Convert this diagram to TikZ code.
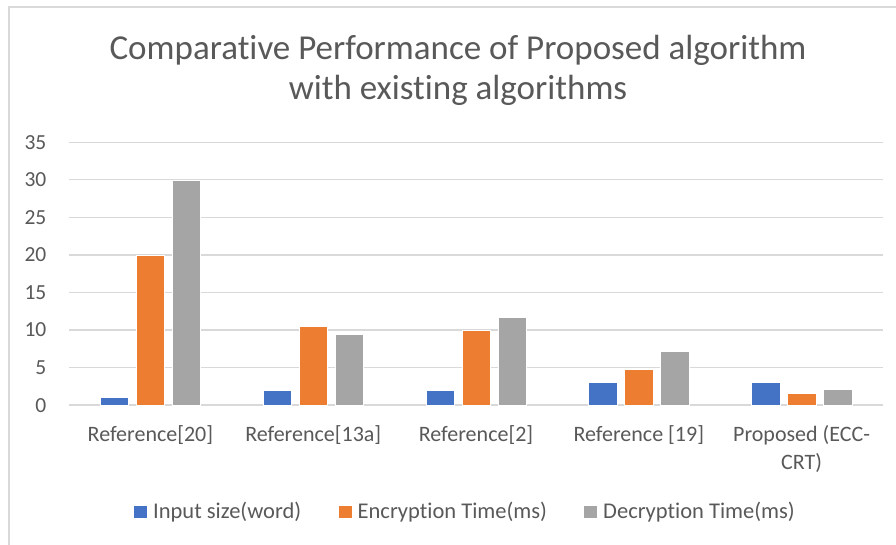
\documentclass[tikz,border=0pt]{standalone}
\usepackage{fontspec}
\setmainfont{Carlito}[RawFeature={-liga;-dlig;-calt}]
\newcommand{\nolig}{\kern0pt{}}
\definecolor{txt}{HTML}{595959}
\definecolor{grid}{HTML}{D9D9D9}
\definecolor{sblue}{HTML}{4472C4}
\definecolor{sorange}{HTML}{ED7D31}
\definecolor{sgray}{HTML}{A5A5A5}
\begin{document}
\begin{tikzpicture}[x=1pt,y=-1pt,
  ticklab/.style={anchor=base east,text=txt,font=\fontsize{21.5}{25}\selectfont,inner sep=0},
  catlab/.style={anchor=base,text=txt,font=\fontsize{22}{27.5}\selectfont,inner sep=0,align=center},
  leglab/.style={anchor=base west,text=txt,font=\fontsize{22.5}{25}\selectfont,inner sep=0},
  titlelab/.style={anchor=base,text=txt,font=\fontsize{35}{40}\selectfont,inner sep=0},
  gridline/.style={draw=grid,line width=1.3pt},
  bar/.style={draw=white,line width=0.5pt}]
\useasboundingbox (0,0) rectangle (896,545);
\fill[white] (0,0) rectangle (896,545);
% chart frame
\draw[grid,line width=1.2pt] (9,545) -- (9,7) -- (896,7);
% title
\node[titlelab] (t1) at (458,60) {Comparat\nolig ive Performance of Proposed algorithm};
\node[titlelab] (t2) at (458,100) {with exist\nolig ing algorithms};
% gridlines and tick labels
\foreach \v [count=\i] in {0,5,...,35}{
  \pgfmathsetmacro{\yy}{405-7.506*\v}
  \draw[gridline] (69,\yy) -- (883,\yy);
  \node[ticklab] (tk\i) at (46.5,\yy+7) {\v};
}
% bars
\foreach \a/\b/\c [count=\i] in {1/20/30, 2/10.5/9.4, 2/10/11.7, 3/4.8/7.2, 3/1.5/2.1}{
  \pgfmathsetmacro{\cx}{69+162.8*(\i-0.5)}
  \filldraw[bar,fill=sblue] (\cx-36-14.2,405) rectangle (\cx-36+14.2,{405-7.506*\a});
  \filldraw[bar,fill=sorange] (\cx-14.2,405) rectangle (\cx+14.2,{405-7.506*\b});
  \filldraw[bar,fill=sgray] (\cx+36-14.2,405) rectangle (\cx+36+14.2,{405-7.506*\c});
}
% category labels
\node[catlab] (c1) at (150.4,441.5) {Reference[20]};
\node[catlab] (c2) at (313.2,441.5) {Reference[13a]};
\node[catlab] (c3) at (476,441.5) {Reference[2]};
\node[catlab] (c4) at (638.8,441.5) {Reference [19]};
\node[catlab] (c5) at (801.6,441.5) {Proposed (ECC-};
\node[catlab] (c6) at (801.6,469) {CRT)};
% legend
\fill[sblue] (134,505.5) rectangle (147,517.5);
\node[leglab] (l1) at (153,518) {Input size(word)};
\fill[sorange] (339,505.5) rectangle (352,517.5);
\node[leglab] (l2) at (357.5,518) {Encrypt\nolig ion Time(ms)};
\fill[sgray] (584,505.5) rectangle (597,517.5);
\node[leglab] (l3) at (603,518) {Decrypt\nolig ion Time(ms)};
\end{tikzpicture}
\end{document}
